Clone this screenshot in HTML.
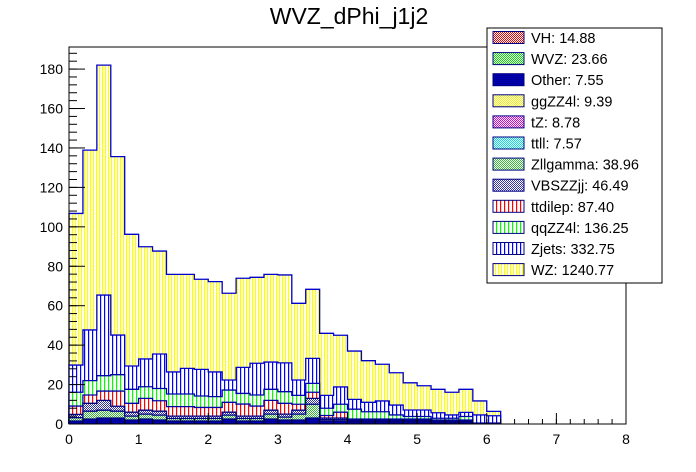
<!DOCTYPE html>
<html><head><meta charset="utf-8"><style>
html,body{margin:0;padding:0;background:#fff;}
svg{display:block;font-family:"Liberation Sans",sans-serif;}
</style></head><body>
<svg id="chart" width="696" height="472" viewBox="0 0 696 472">
<defs>
<pattern id="pWZ" width="3" height="4" patternUnits="userSpaceOnUse"><rect width="3" height="4" fill="#fff"/><rect width="1.2" height="4" fill="#ffff00"/></pattern>
<pattern id="pZj" width="4" height="4" patternUnits="userSpaceOnUse"><rect width="4" height="4" fill="#fff"/><rect width="1.2" height="4" fill="#0000ff"/></pattern>
<pattern id="pZZ" width="4" height="4" patternUnits="userSpaceOnUse"><rect width="4" height="4" fill="#fff"/><rect width="1.2" height="4" fill="#00ff00"/></pattern>
<pattern id="pTT" width="4" height="4" patternUnits="userSpaceOnUse"><rect width="4" height="4" fill="#fff"/><rect width="1.2" height="4" fill="#ff0000"/></pattern>
<pattern id="pVBS" width="2" height="2" patternUnits="userSpaceOnUse"><rect width="2" height="2" fill="#fff"/><rect width="1" height="1" fill="#3333aa"/><rect x="1" y="1" width="1" height="1" fill="#3333aa"/></pattern>
<pattern id="pZll" width="2" height="2" patternUnits="userSpaceOnUse"><rect width="2" height="2" fill="#fff"/><rect width="1" height="1" fill="#33bb33"/><rect x="1" y="1" width="1" height="1" fill="#33bb33"/></pattern>
<pattern id="pOth" width="2" height="2" patternUnits="userSpaceOnUse"><rect width="2" height="2" fill="#000099"/><rect width="1" height="1" fill="#0000cc"/></pattern>
<pattern id="pVH" width="2" height="2" patternUnits="userSpaceOnUse"><rect width="2" height="2" fill="#fff"/><rect width="1" height="1" fill="#ee0000"/><rect x="1" y="1" width="1" height="1" fill="#ee0000"/></pattern>
<pattern id="pWVZ" width="2" height="2" patternUnits="userSpaceOnUse"><rect width="2" height="2" fill="#fff"/><rect width="1" height="1" fill="#00dd00"/><rect x="1" y="1" width="1" height="1" fill="#00dd00"/></pattern>
<pattern id="pGG" width="2" height="2" patternUnits="userSpaceOnUse"><rect width="2" height="2" fill="#fff"/><rect width="1" height="1" fill="#eeee00"/><rect x="1" y="1" width="1" height="1" fill="#eeee00"/></pattern>
<pattern id="pTZ" width="2" height="2" patternUnits="userSpaceOnUse"><rect width="2" height="2" fill="#fff"/><rect width="1" height="1" fill="#dd00dd"/><rect x="1" y="1" width="1" height="1" fill="#dd00dd"/></pattern>
<pattern id="pTTLL" width="2" height="2" patternUnits="userSpaceOnUse"><rect width="2" height="2" fill="#fff"/><rect width="1" height="1" fill="#00dddd"/><rect x="1" y="1" width="1" height="1" fill="#00dddd"/></pattern>
</defs>
<text x="349" y="24" font-size="23" text-anchor="middle">WVZ_dPhi_j1j2</text>
<g id="bars"></g>
<rect x="69" y="47" width="557" height="377" fill="none" stroke="#000" stroke-width="1"/>
<g id="axes"></g>
<g id="legend"></g>
</svg>
<script>
const binWidth = 0.2;
const otherVals = [1.5,2.5,3,3,2,2.5,2,1.5,1.5,1.5,1.5,2.5,1.5,1.5,2.5,2,2,3,1.5,1.5,1,1,1,1,1,1,0.8,0.8,0.8,0.2,0.2];
const zllgammaVals = [1.7,4,4,3.5,2,2.5,2.5,1.3,1.3,1.3,1.3,2,1.3,1.3,2.5,1.5,3,7,0.7,0.7,0.5,0.5,0.5,0.5,0.5,0.5,0.4,0.4,0.4,0.05,0.05];
const vbszzjjVals = [1.7,4,5,2.5,2,2,2,1.2,1.2,1.2,1.2,1.5,1.2,1.2,2,1.5,2,3,0.8,0.8,0.5,0.5,0.5,0.5,0.5,0.5,0.3,0.3,0.3,0.05,0.05];
const ttdilepVals = [4.2,4.2,4.7,7.7,4.5,6,5.3,4.8,4.8,4.4,4.4,5,6.1,5.1,5,5.5,3,3.1,1.3,3,0.5,0.5,0.5,0.5,0.5,0.5,0.5,0.5,0.5,0.1,0.1];
const qqzzVals = [7,7.3,7.8,8.3,7.1,5.9,6.2,6.4,6.4,5.8,5.5,6.2,5.4,5.6,5.6,5.9,4.5,4.5,3.7,4,5,3.7,3.7,2.1,1.3,1.3,0.9,0.9,1.8,0.1,0.1];
const zjetsVals = [13.8,25.7,40.9,20.1,11.8,14.1,17.5,11.2,13,13.5,12.5,5.1,13.2,16.1,13.8,14.6,7.8,12.7,6.5,8.8,5,4.8,5.5,5,3.3,3.3,2.8,1.7,2.1,4.1,3.7];
const wzVals = [76.9,91.2,116.6,90.5,66.8,56.9,52.2,49.5,47.7,45.7,45.8,44,45.2,43.6,44.5,44.6,38.9,35,31.5,26.2,24.5,21.1,18.6,16.4,13.8,12.3,11.9,11.5,11.7,7.1,2.2];
const xTicks = [0,1,2,3,4,5,6,7,8];
const yTicks = [0,20,40,60,80,100,120,140,160,180];
const legendLabels = ["VH: 14.88","WVZ: 23.66","Other: 7.55","ggZZ4l: 9.39","tZ: 8.78","ttll: 7.57","Zllgamma: 38.96","VBSZZjj: 46.49","ttdilep: 87.40","qqZZ4l: 136.25","Zjets: 332.75","WZ: 1240.77"];

const NS="http://www.w3.org/2000/svg";
const X0=69,X1=626,Y0=424,Y1=47,XMAX=8,YMAX=191.2;
function xs(v){return X0+v/XMAX*(X1-X0);}
function ys(v){return Y0-v/YMAX*(Y0-Y1);}
function mk(tag,attrs,parent){const e=document.createElementNS(NS,tag);for(const k in attrs)e.setAttribute(k,attrs[k]);parent.appendChild(e);return e;}

const layers=[
 {name:"other",vals:otherVals,fill:"url(#pOth)",stroke:"#000080"},
 {name:"zllgamma",vals:zllgammaVals,fill:"url(#pZll)",stroke:"#000080"},
 {name:"vbszzjj",vals:vbszzjjVals,fill:"url(#pVBS)",stroke:"#000080"},
 {name:"ttdilep",vals:ttdilepVals,fill:"url(#pTT)",stroke:"#0000aa"},
 {name:"qqzz4l",vals:qqzzVals,fill:"url(#pZZ)",stroke:"#0000aa"},
 {name:"zjets",vals:zjetsVals,fill:"url(#pZj)",stroke:"#0000cc"},
 {name:"wz",vals:wzVals,fill:"url(#pWZ)",stroke:"#0000cc"}
];
const bars=document.getElementById('bars');
const n=wzVals.length;
const cum=[];
let acc=new Array(n).fill(0);
layers.forEach(L=>{const c=[];for(let i=0;i<n;i++){acc[i]+=L.vals[i];c.push(acc[i]);}cum.push(c);});
for(let li=layers.length-1;li>=0;li--){
 const L=layers[li];
 const g=mk('g',{},bars);
 
 
 const top=cum[li];
 for(let i=0;i<n;i++){
  const r=mk('rect',{x:xs(i*binWidth),y:ys(top[i]),width:xs(binWidth)-xs(0)+0.3,height:Y0-ys(top[i]),fill:L.fill},g);
  
  
 }
 let d='M'+xs(0)+','+Y0;
 for(let i=0;i<n;i++){d+=' L'+xs(i*binWidth)+','+ys(top[i])+' L'+xs((i+1)*binWidth)+','+ys(top[i]);}
 d+=' L'+xs(n*binWidth)+','+Y0;
 const p=mk('path',{d:d,fill:'none',stroke:L.stroke,'stroke-width':1.3},g);
 
 
}
const ax=document.getElementById('axes');
yTicks.forEach(v=>{
 mk('line',{x1:X0,x2:X0+16,y1:ys(v),y2:ys(v),stroke:'#000'},ax);
 const t=mk('text',{x:X0-6,y:ys(v)+5,'font-size':14,'text-anchor':'end'},ax);
 t.textContent=v;
 
 
});
for(let v=0;v<=YMAX;v+=4){mk('line',{x1:X0,x2:X0+8,y1:ys(v),y2:ys(v),stroke:'#000'},ax);}
xTicks.forEach(v=>{
 mk('line',{x1:xs(v),x2:xs(v),y1:Y0,y2:Y0-11,stroke:'#000'},ax);
 const t=mk('text',{x:xs(v),y:Y0+20,'font-size':14,'text-anchor':'middle'},ax);
 t.textContent=v;
 
 
});
for(let v=0;v<=8.001;v+=0.2){mk('line',{x1:xs(v),x2:xs(v),y1:Y0,y2:Y0-5,stroke:'#000'},ax);}

const lg=document.getElementById('legend');
mk('rect',{x:487,y:28,width:175,height:255,fill:'#fff',stroke:'#000'},lg);
const swatches=["url(#pVH)","url(#pWVZ)","url(#pOth)","url(#pGG)","url(#pTZ)","url(#pTTLL)","url(#pZll)","url(#pVBS)","url(#pTT)","url(#pZZ)","url(#pZj)","url(#pWZ)"];
legendLabels.forEach((lab,i)=>{
 const cy=37.5+i*21.1;
 const s=mk('rect',{x:493,y:cy-6,width:31,height:12,fill:swatches[i],stroke:'#000080','stroke-width':1},lg);
 
 
 const t=mk('text',{x:531,y:cy+5.5,'font-size':14.5},lg);
 t.textContent=lab;
 
 
});
</script>
</body></html>
